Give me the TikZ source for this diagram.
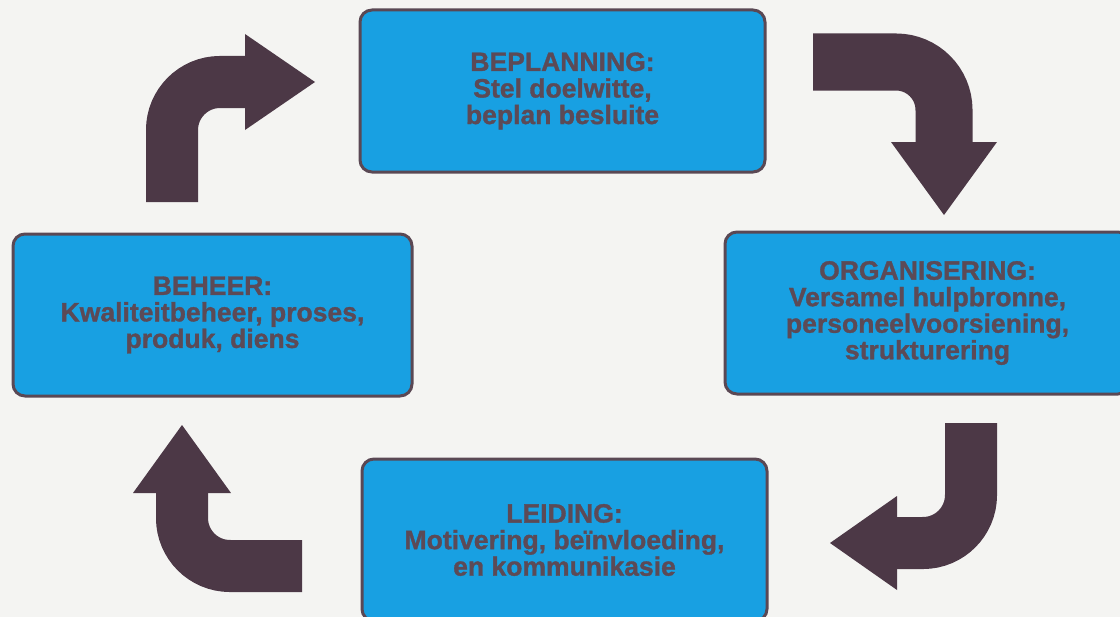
\documentclass[tikz,border=0pt]{standalone}
\usepackage{fontspec}
\setmainfont{Liberation Sans}[BoldFeatures={FakeBold=1.2}]
\definecolor{pagebg}{HTML}{F4F4F2}
\definecolor{boxfill}{HTML}{18A0E2}
\definecolor{boxline}{HTML}{5A4854}
\definecolor{arrowcol}{HTML}{4C3846}
\definecolor{textcol}{HTML}{5C4A56}
\begin{document}
\begin{tikzpicture}[x=0.75pt,y=-0.75pt,
  stage/.style={draw=boxline, line width=2.25pt, fill=boxfill, rounded corners=9pt,
    minimum width=303.75pt, minimum height=121.5pt, align=center, inner sep=0pt,
    text=textcol, font=\fontsize{19.9pt}{19.9pt}\selectfont\bfseries},
  shaft/.style={draw=arrowcol, line width=39pt, rounded corners=36pt},
  head/.style={fill=arrowcol}]
  % page
  \fill[pagebg] (0,0) rectangle (1120,617);
  \useasboundingbox (0,0) rectangle (1120,617);
  \clip (0,0) rectangle (1120,617);

  % the four stages of the cycle
  \node[stage] (plan) at (562.5,91) {BEPLANNING:\\Stel doelwitte,\\beplan besluite};
  \node[stage] (org)  at (927.5,313) {ORGANISERING:\\Versamel hulpbronne,\\personeelvoorsiening,\\strukturering};
  \node[stage] (lead) at (564.5,540) {LEIDING:\\Motivering, beïnvloeding,\\en kommunikasie};
  \node[stage, minimum width=299.25pt] (ctrl) at (212.5,315) {BEHEER:\\Kwaliteitbeheer, proses,\\produk, diens};

  % bent block arrows: start, head base, tip
  \coordinate (a1s) at (172,202); \coordinate (a1b) at (245,82);  \coordinate (a1t) at (315,82);
  \coordinate (a2s) at (813,62);  \coordinate (a2b) at (944,142); \coordinate (a2t) at (944,215);
  \coordinate (a3s) at (971,423); \coordinate (a3b) at (897,543); \coordinate (a3t) at (830,543);
  \coordinate (a4s) at (302,566); \coordinate (a4b) at (182,493); \coordinate (a4t) at (182,425);

  % beheer -> beplanning
  \draw[shaft] (a1s) |- ([shift={(2,0)}]a1b);
  \fill[head] (a1t) -- ([shift={(0,-48)}]a1b) -- ([shift={(0,48)}]a1b) -- cycle;
  % beplanning -> organisering
  \draw[shaft, line width=42.75pt] (a2s) -| ([shift={(0,2)}]a2b);
  \fill[head] (a2t) -- ([shift={(-53,0)}]a2b) -- ([shift={(53,0)}]a2b) -- cycle;
  % organisering -> leiding
  \draw[shaft] (a3s) |- ([shift={(-2,0)}]a3b);
  \fill[head] (a3t) -- ([shift={(0,-47)}]a3b) -- ([shift={(0,47)}]a3b) -- cycle;
  % leiding -> beheer
  \draw[shaft] (a4s) -| ([shift={(0,-2)}]a4b);
  \fill[head] (a4t) -- ([shift={(-49,0)}]a4b) -- ([shift={(49,0)}]a4b) -- cycle;
\end{tikzpicture}
\end{document}
